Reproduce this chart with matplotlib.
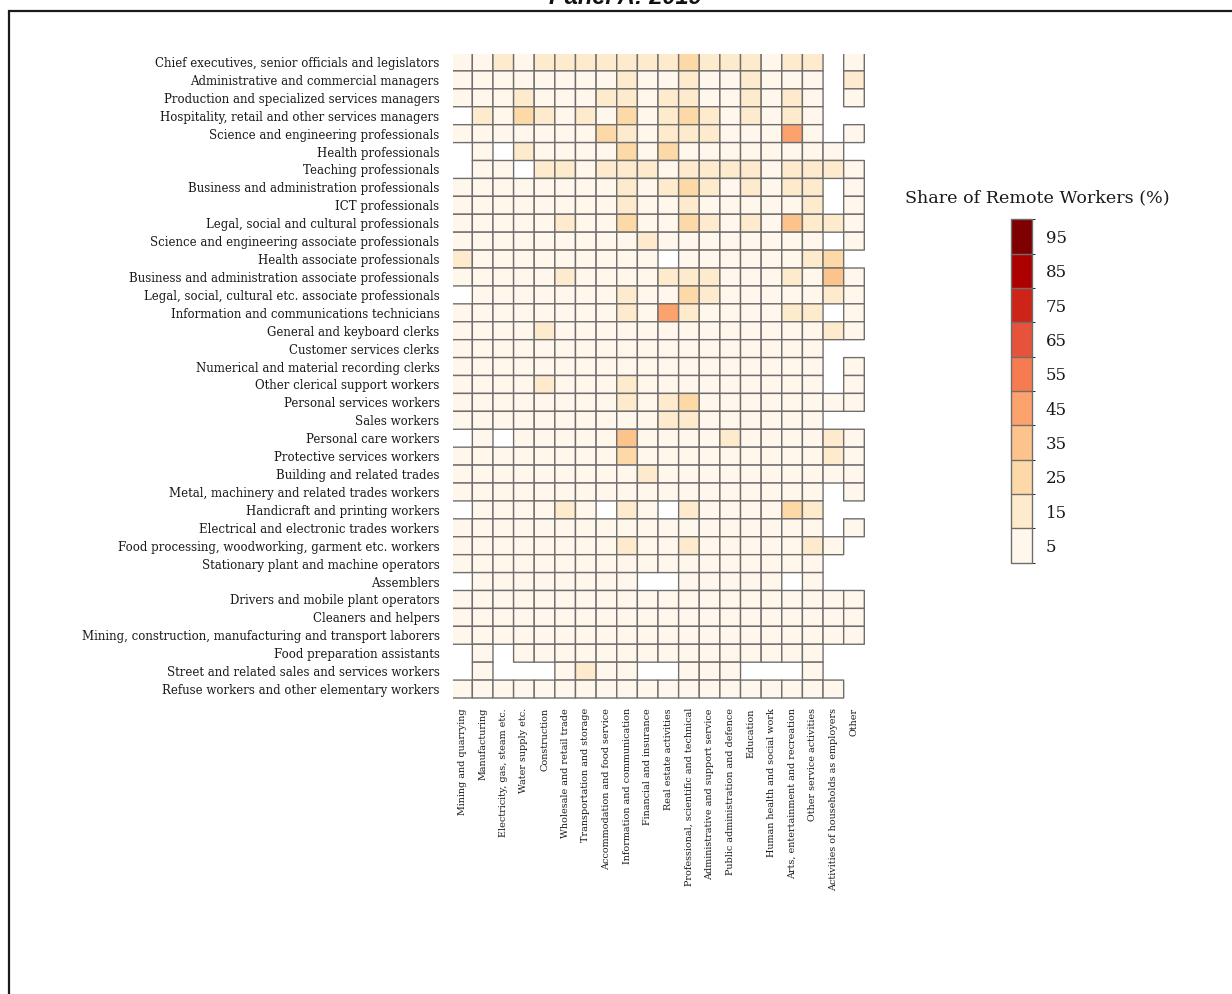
import numpy as np
import matplotlib
matplotlib.use("Agg")
import matplotlib.pyplot as plt
from matplotlib.colors import ListedColormap, BoundaryNorm
from matplotlib.patches import Rectangle

occupations = [
    "Chief executives, senior officials and legislators",
    "Administrative and commercial managers",
    "Production and specialized services managers",
    "Hospitality, retail and other services managers",
    "Science and engineering professionals",
    "Health professionals",
    "Teaching professionals",
    "Business and administration professionals",
    "ICT professionals",
    "Legal, social and cultural professionals",
    "Science and engineering associate professionals",
    "Health associate professionals",
    "Business and administration associate professionals",
    "Legal, social, cultural etc. associate professionals",
    "Information and communications technicians",
    "General and keyboard clerks",
    "Customer services clerks",
    "Numerical and material recording clerks",
    "Other clerical support workers",
    "Personal services workers",
    "Sales workers",
    "Personal care workers",
    "Protective services workers",
    "Building and related trades",
    "Metal, machinery and related trades workers",
    "Handicraft and printing workers",
    "Electrical and electronic trades workers",
    "Food processing, woodworking, garment etc. workers",
    "Stationary plant and machine operators",
    "Assemblers",
    "Drivers and mobile plant operators",
    "Cleaners and helpers",
    "Mining, construction, manufacturing and transport laborers",
    "Food preparation assistants",
    "Street and related sales and services workers",
    "Refuse workers and other elementary workers",
]

industries = [
    "Mining and quarrying",
    "Manufacturing",
    "Electricity, gas, steam etc.",
    "Water supply etc.",
    "Construction",
    "Wholesale and retail trade",
    "Transportation and storage",
    "Accommodation and food service",
    "Information and communication",
    "Financial and insurance",
    "Real estate activities",
    "Professional, scientific and technical",
    "Administrative and support service",
    "Public administration and defence",
    "Education",
    "Human health and social work",
    "Arts, entertainment and recreation",
    "Other service activities",
    "Activities of households as employers",
    "Other",
]

N = None
# Share of remote workers (%) by occupation (rows) and industry (columns)
remote_share = [
    [5, 5, 15, 5, 15, 15, 15, 15, 15, 15, 15, 25, 15, 15, 15, 5, 15, 15, N, 5],
    [5, 5, 5, 5, 5, 5, 5, 5, 15, 5, 5, 15, 5, 5, 15, 5, 5, 5, N, 15],
    [5, 5, 5, 15, 5, 5, 5, 15, 15, 5, 15, 15, 5, 5, 15, 5, 15, 5, N, 5],
    [N, 15, 5, 25, 15, 5, 15, 5, 25, 5, 15, 25, 15, 5, 15, 5, 15, 5, N, N],
    [5, 5, 5, 5, 5, 5, 5, 25, 15, 5, 15, 15, 15, 5, 5, 5, 45, 5, N, 5],
    [N, 5, N, 15, 5, 5, 5, 5, 25, 5, 25, 5, 5, 5, 5, 5, 5, 5, 5, N],
    [N, 5, 5, N, 15, 15, 5, 15, 15, 15, 5, 15, 15, 15, 15, 5, 15, 15, 15, 5],
    [5, 5, 5, 5, 5, 5, 5, 5, 15, 5, 15, 25, 15, 5, 15, 5, 15, 15, N, 5],
    [5, 5, 5, 5, 5, 5, 5, 5, 15, 5, 5, 15, 5, 5, 5, 5, 5, 15, N, 5],
    [5, 5, 5, 5, 5, 15, 5, 5, 25, 5, 5, 25, 15, 5, 15, 5, 35, 15, 15, 5],
    [5, 5, 5, 5, 5, 5, 5, 5, 5, 15, 5, 5, 5, 5, 5, 5, 5, 5, N, 5],
    [15, 5, 5, 5, 5, 5, 5, 5, 5, 5, N, 5, 5, 5, 5, 5, 5, 15, 25, N],
    [5, 5, 5, 5, 5, 15, 5, 5, 5, 5, 15, 15, 15, 5, 5, 5, 15, 5, 35, 5],
    [N, 5, 5, 5, 5, 5, 5, 5, 15, 5, 5, 25, 15, 5, 5, 5, 5, 5, 15, 5],
    [5, 5, 5, 5, 5, 5, 5, 5, 15, 5, 45, 15, 5, 5, 5, 5, 15, 15, N, 5],
    [5, 5, 5, 5, 15, 5, 5, 5, 5, 5, 5, 5, 5, 5, 5, 5, 5, 5, 15, 5],
    [5, 5, 5, 5, 5, 5, 5, 5, 5, 5, 5, 5, 5, 5, 5, 5, 5, 5, N, N],
    [5, 5, 5, 5, 5, 5, 5, 5, 5, 5, 5, 5, 5, 5, 5, 5, 5, 5, N, 5],
    [5, 5, 5, 5, 15, 5, 5, 5, 15, 5, 5, 5, 5, 5, 5, 5, 5, 5, N, 5],
    [5, 5, 5, 5, 5, 5, 5, 5, 15, 5, 15, 25, 5, 5, 5, 5, 5, 5, 5, 5],
    [5, 5, 5, 5, 5, 5, 5, 5, 5, 5, 15, 15, 5, 5, 5, 5, 5, 5, N, N],
    [N, 5, N, 5, 5, 5, 5, 5, 35, 5, 5, 5, 5, 15, 5, 5, 5, 5, 15, 5],
    [5, 5, 5, 5, 5, 5, 5, 5, 25, 5, 5, 5, 5, 5, 5, 5, 5, 5, 15, 5],
    [5, 5, 5, 5, 5, 5, 5, 5, 5, 15, 5, 5, 5, 5, 5, 5, 5, 5, 5, 5],
    [5, 5, 5, 5, 5, 5, 5, 5, 5, 5, 5, 5, 5, 5, 5, 5, 5, 5, N, 5],
    [N, 5, 5, 5, 5, 15, 5, N, 15, 5, N, 15, 5, 5, 5, 5, 25, 15, N, N],
    [5, 5, 5, 5, 5, 5, 5, 5, 5, 5, 5, 5, 5, 5, 5, 5, 5, 5, N, 5],
    [5, 5, 5, 5, 5, 5, 5, 5, 15, 5, 5, 15, 5, 5, 5, 5, 5, 15, 5, N],
    [5, 5, 5, 5, 5, 5, 5, 5, 5, 5, 5, 5, 5, 5, 5, 5, 5, 5, N, N],
    [N, 5, 5, 5, 5, 5, 5, 5, 5, N, N, 5, 5, 5, 5, 5, N, 5, N, N],
    [5, 5, 5, 5, 5, 5, 5, 5, 5, 5, 5, 5, 5, 5, 5, 5, 5, 5, 5, 5],
    [5, 5, 5, 5, 5, 5, 5, 5, 5, 5, 5, 5, 5, 5, 5, 5, 5, 5, 5, 5],
    [5, 5, 5, 5, 5, 5, 5, 5, 5, 5, 5, 5, 5, 5, 5, 5, 5, 5, 5, 5],
    [N, 5, N, 5, 5, 5, 5, 5, 5, 5, 5, 5, 5, 5, 5, 5, 5, 5, N, N],
    [N, 5, N, N, N, 5, 15, 5, 5, N, N, 5, 5, 5, N, N, N, 5, N, N],
    [5, 5, 5, 5, 5, 5, 5, 5, 5, 5, 5, 5, 5, 5, 5, 5, 5, 5, 5, N],
]

bin_edges = [0, 10, 20, 30, 40, 50, 60, 70, 80, 90, 100]
bin_ticks = [5, 15, 25, 35, 45, 55, 65, 75, 85, 95]

W, H = 1232, 994
fig = plt.figure(figsize=(W / 100, H / 100), dpi=100)

serif = "DejaVu Serif"
text_color = "#1a1a1a"
grid_color = "#6e6e6e"

data = np.array([[np.nan if v is None else v for v in row] for row in remote_share], dtype=float)
masked = np.ma.masked_invalid(data)

colors = plt.get_cmap("OrRd")(np.linspace(0, 1, 10))
cmap = ListedColormap(colors)
norm = BoundaryNorm(bin_edges, cmap.N)

def px_axes(x0, y0, x1, y1):
    return fig.add_axes([x0 / W, 1 - y1 / H, (x1 - x0) / W, (y1 - y0) / H])

# cell grid: 20 columns from x=451.7 to 864.3 px, 36 rows from y=53 to 698 px
n_cols, n_rows = len(industries), len(occupations)
cw = (864.3 - 451.7) / n_cols
rh = (698.0 - 53.0) / n_rows
lo, hi = 0.05, 0.1  # trim the outer left/top borders, keep right/bottom ones
ax = px_axes(451.7 + lo * cw, 53.0 + lo * rh, 864.3 + hi * cw, 698.0 + hi * rh)
cells = ax.pcolor(masked, cmap=cmap, norm=norm, edgecolors=grid_color, linewidth=1.0)
ax.set_xlim(lo, n_cols + hi)
ax.set_ylim(n_rows + hi, lo)
for s in ax.spines.values():
    s.set_visible(False)
ax.set_xticks(np.arange(n_cols) + 0.5)
ax.set_xticklabels(industries, rotation=90, fontsize=6.9, family=serif, color=text_color)
ax.set_yticks(np.arange(n_rows) + 0.5)
ax.set_yticklabels(occupations, fontsize=8.5, family=serif, color=text_color)
ax.tick_params(axis="both", length=0)
ax.tick_params(axis="y", pad=9.5)
ax.tick_params(axis="x", pad=6.0)

cax = px_axes(1010.7, 219.3, 1031.7, 562.7)
cb = fig.colorbar(cells, cax=cax, boundaries=bin_edges, ticks=bin_ticks, drawedges=True)
cb.outline.set_edgecolor(grid_color)
cb.outline.set_linewidth(1.0)
cb.dividers.set_color(grid_color)
cb.dividers.set_linewidth(1.0)
cax.tick_params(length=0, pad=10, labelsize=12, labelcolor=text_color)
for lbl in cax.get_yticklabels():
    lbl.set_family(serif)
fig.text(1037 / W, 1 - 198 / H, "Share of Remote Workers (%)", ha="center", va="center",
         fontsize=12.6, family=serif, color=text_color)

fig.text(625 / W, 1 - 4.5 / H, "Panel A: 2019", ha="center", va="baseline",
         fontsize=17, fontweight="bold", fontstyle="italic", family="Liberation Sans",
         color="#111111")

frame = Rectangle((8.5 / W, -0.05), 1.2, 1.05 - 10.5 / H, transform=fig.transFigure,
                  fill=False, edgecolor="#1a1a1a", linewidth=1.6)
fig.add_artist(frame)

fig.savefig("out.png", dpi=100)
